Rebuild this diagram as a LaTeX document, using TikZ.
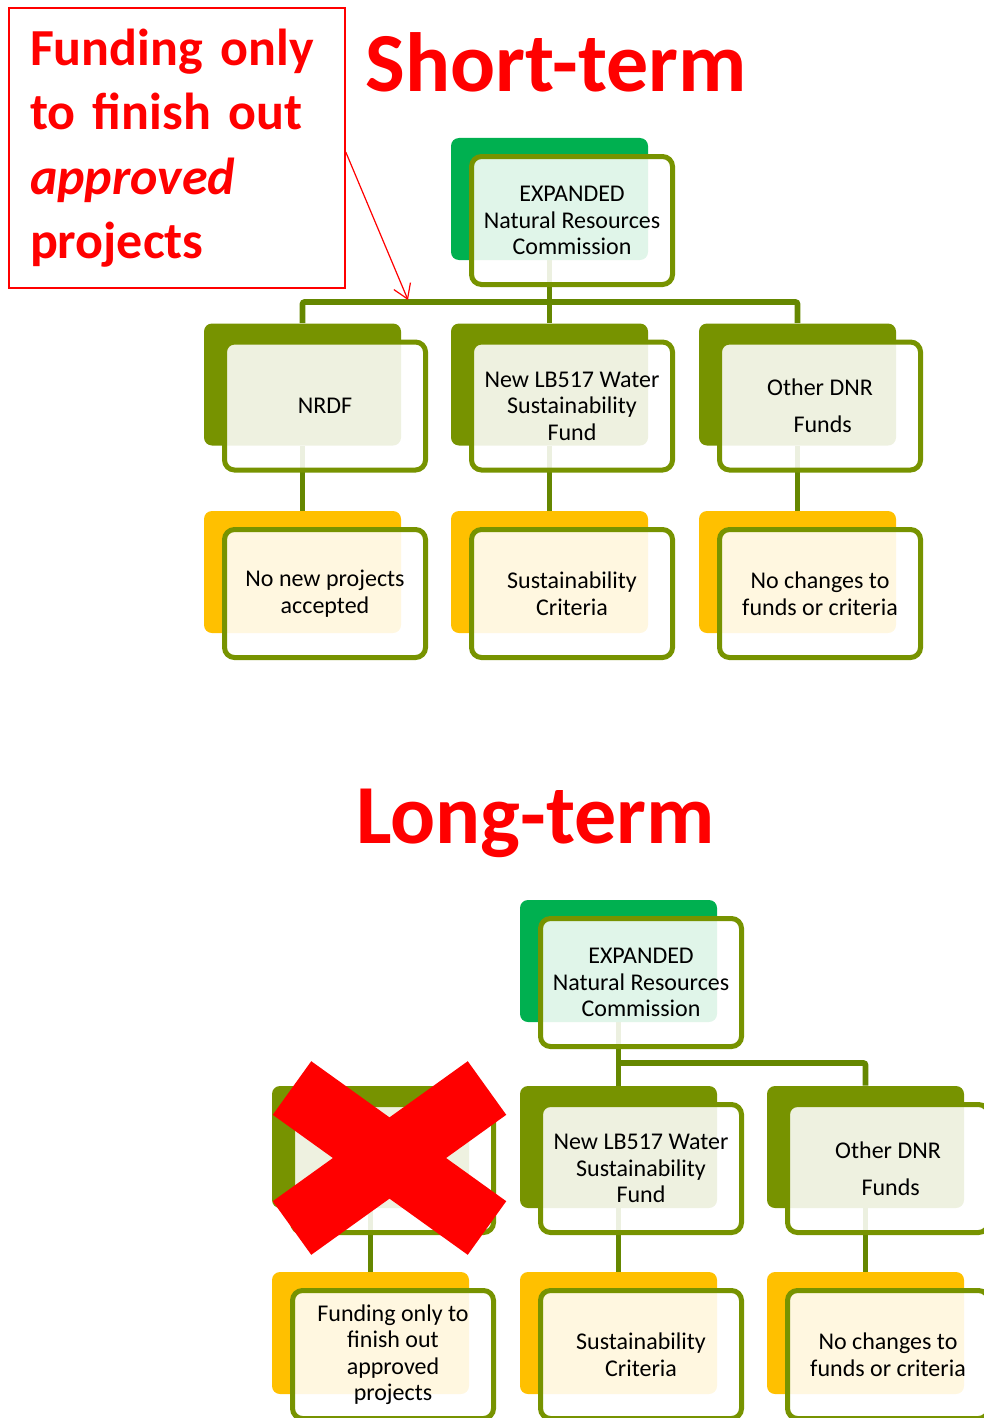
\documentclass[tikz,border=0pt]{standalone}
\usepackage{fontspec}
\setmainfont{Carlito}
\usetikzlibrary{arrows.meta, positioning, calc, backgrounds}

\definecolor{oliveback}{HTML}{779300}
\definecolor{linkgreen}{HTML}{658700}
\definecolor{nrcgreen}{HTML}{00B050}
\definecolor{crityellow}{HTML}{FFC000}

\begin{document}
\begin{tikzpicture}[x=0.5pt, y=-0.5pt,
    back/.style={rounded corners=4pt, minimum width=98.5pt, minimum height=61pt, inner sep=0pt, fill=#1},
    front/.style={draw=oliveback, line width=2.5pt, fill=white, fill opacity=0.88, text opacity=1,
      rounded corners=5pt, minimum width=100.5pt, minimum height=64pt, inner sep=0pt,
      align=center, font=\fontsize{12}{13.25}\selectfont},
    link/.style={draw=linkgreen, line width=2.8pt, rounded corners=1pt},
    title/.style={text=red, font=\fontsize{42}{50}\selectfont\bfseries, anchor=base west, inner sep=0pt},
    cross/.style={draw=red, line width=33pt}]
  \useasboundingbox (0,0) rectangle (984,1418);
  \clip (0,0) rectangle (984,1418);

  % Titles
  \node[title] (short) at (365,91) {Short-term};
  \node[title] (long) at (356,843) {Long-term};

  % Short-term chart: define the nodes
  \node[back=nrcgreen] (snrc-b) at (549.5,199) {};
  \node[front] (snrc) at ($(snrc-b)+(22.5,21.5)$) {EXPANDED\\Natural Resources\\Commission};

  \node[back=oliveback] (snrdf-b) at (302.5,384.5) {};
  \node[front] (snrdf) at ($(snrdf-b)+(22.5,21.5)$) {NRDF};
  \node[back=oliveback] (slb-b) at (549.5,384.5) {};
  \node[front] (slb) at ($(slb-b)+(22.5,21.5)$) {New LB517 Water\\Sustainability\\Fund};
  \node[back=oliveback] (sodnr-b) at (797.5,384.5) {};
  \node[front] (sodnr) at ($(sodnr-b)+(22.5,21.5)$) {Other DNR\\[5pt]\ Funds};

  \node[back=crityellow] (snonew-b) at (302.5,572) {};
  \node[front] (snonew) at ($(snonew-b)+(22.5,21.5)$) {No new projects\\accepted};
  \node[back=crityellow] (scrit-b) at (549.5,572) {};
  \node[front] (scrit) at ($(scrit-b)+(22.5,21.5)$) {Sustainability\\Criteria};
  \node[back=crityellow] (snochg-b) at (797.5,572) {};
  \node[front] (snochg) at ($(snochg-b)+(22.5,21.5)$) {No changes to\\funds or criteria};

  % Long-term chart: define the nodes
  \node[back=nrcgreen] (lnrc-b) at (618.5,961) {};
  \node[front] (lnrc) at ($(lnrc-b)+(22.5,21.5)$) {EXPANDED\\Natural Resources\\Commission};

  \node[back=oliveback] (lnrdf-b) at (370.5,1147) {};
  \node[front] (lnrdf) at ($(lnrdf-b)+(22.5,21.5)$) {};
  \node[back=oliveback] (llb-b) at (618.5,1147) {};
  \node[front] (llb) at ($(llb-b)+(22.5,21.5)$) {New LB517 Water\\Sustainability\\Fund};
  \node[back=oliveback] (lodnr-b) at (865.5,1147) {};
  \node[front] (lodnr) at ($(lodnr-b)+(22.5,21.5)$) {Other DNR\\[5pt]\ Funds};

  \node[back=crityellow] (lfinish-b) at (370.5,1333) {};
  \node[front] (lfinish) at ($(lfinish-b)+(22.5,21.5)$) {Funding only to\\finish out\\approved\\projects};
  \node[back=crityellow] (lcrit-b) at (618.5,1333) {};
  \node[front] (lcrit) at ($(lcrit-b)+(22.5,21.5)$) {Sustainability\\Criteria};
  \node[back=crityellow] (lnochg-b) at (865.5,1333) {};
  \node[front] (lnochg) at ($(lnochg-b)+(22.5,21.5)$) {No changes to\\funds or criteria};

  % Draw the edges (behind the boxes)
  \coordinate (sbus) at (549.5,302);
  \coordinate (lbus) at (618.5,1063);
  \begin{scope}[on background layer]
    \draw[link] (snrc-b) -- (slb-b);
    \draw[link] (snrdf-b) |- (sbus) -| (sodnr-b);
    \draw[link] (snrdf-b) -- (snonew-b);
    \draw[link] (slb-b) -- (scrit-b);
    \draw[link] (sodnr-b) -- (snochg-b);

    \draw[link] (lnrc-b) -- (llb-b);
    \draw[link] (lbus) -| (lodnr-b);
    \draw[link] (lnrdf-b) -- (lfinish-b);
    \draw[link] (llb-b) -- (lcrit-b);
    \draw[link] (lodnr-b) -- (lnochg-b);
  \end{scope}

  % Dropped fund
  \draw[cross] (292,1088) -- (487,1228);
  \draw[cross] (487,1088) -- (292,1228);

  % Callout
  \node[draw=red, line width=0.75pt, fill=white, minimum width=168pt, minimum height=140pt,
    text width=147pt, inner xsep=10.5pt, align=left, text=red,
    font=\fontsize{26}{32.25}\selectfont\bfseries] (note) at (177,148)
    {Funding only\\to finish out\\\textit{approved}\\projects};
  \coordinate (tip) at (408,300);
  \draw[red, line width=0.6pt, -{Straight Barb[length=7pt,width=9pt]}] ($(note.east)+(0,4)$) -- (tip);
\end{tikzpicture}
\end{document}
